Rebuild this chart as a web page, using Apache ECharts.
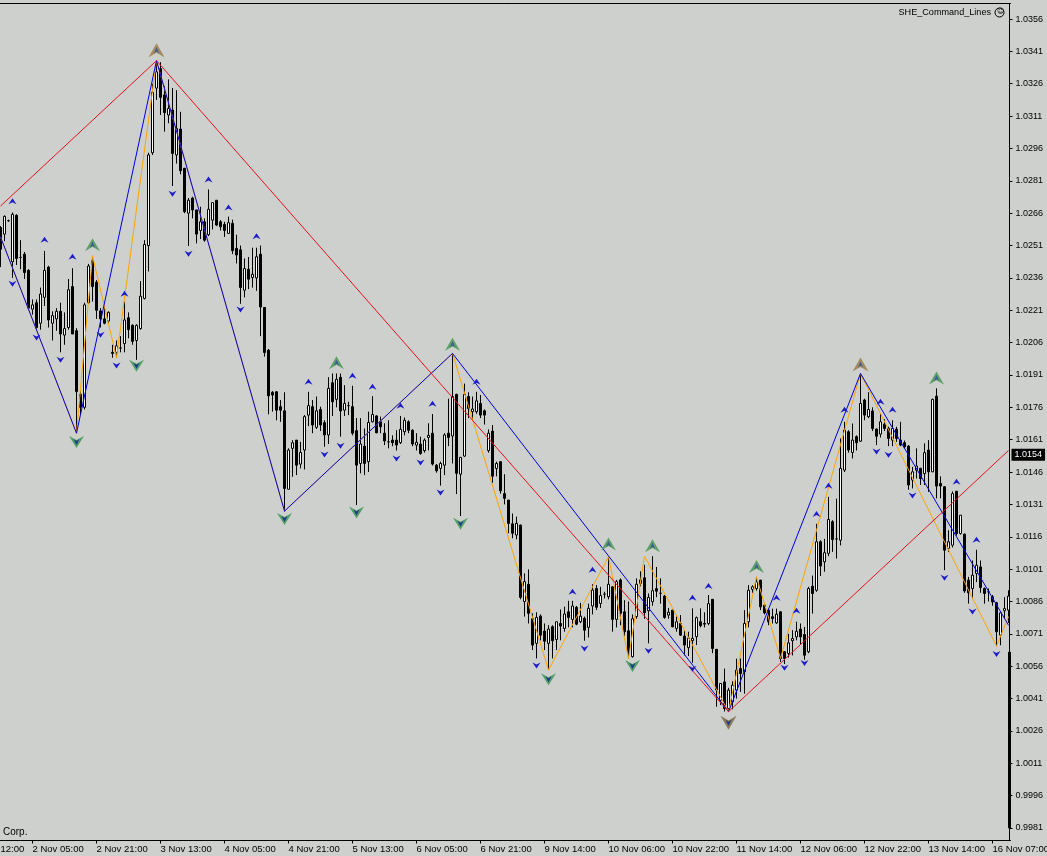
<!DOCTYPE html>
<html><head><meta charset="utf-8">
<style>html,body{margin:0;padding:0;background:#cdd0cc}#c{width:1047px;height:856px}</style>
<script src="https://cdn.jsdelivr.net/npm/echarts@6/dist/echarts.min.js"></script>
</head><body><div id="c"></div>
<script>
const opens=[1.02594,1.02563,1.02625,1.02435,1.0265,1.02455,1.0247,1.02395,1.02215,1.02245,
1.0215,1.0227,1.0241,1.0215,1.0217,1.02205,1.02095,1.0213,1.0232,1.02115,
1.0182,1.0176,1.02245,1.0244,1.0234,1.02207,1.0217,1.0216,1.02015,1.02015,
1.02035,1.02055,1.02175,1.0214,1.0207,1.02125,1.02265,1.0251,1.0294,1.0324,
1.0333,1.03208,1.03115,1.03138,1.0293,1.0305,1.02868,1.0266,1.0273,1.02675,
1.0258,1.0262,1.0256,1.02628,1.0272,1.0262,1.02608,1.02566,1.02613,1.02497,
1.0249,1.02303,1.024,1.02362,1.0236,1.0247,1.02223,1.02025,1.0183,1.01832,
1.01763,1.01744,1.0138,1.0157,1.01608,1.01497,1.01562,1.01724,1.01763,1.01667,
1.0175,1.01689,1.01632,1.01874,1.01797,1.01899,1.01747,1.01768,1.01763,1.01652,
1.015,1.0158,1.01508,1.01693,1.0172,1.01693,1.0164,1.016,1.01608,1.01608,
1.01596,1.01647,1.01693,1.01654,1.01585,1.0159,1.01559,1.0162,1.0164,1.01492,
1.01477,1.01492,1.0164,1.01627,1.0182,1.0145,1.01534,1.0181,1.0174,1.0174,
1.01778,1.01744,1.01559,1.0165,1.01477,1.01508,1.0136,1.0133,1.0122,1.01168,
1.01214,1.0086,1.0094,1.0078,1.00666,1.00792,1.00723,1.00666,1.00743,1.00684,
1.00758,1.00735,1.00812,1.00777,1.00833,1.00766,1.00782,1.0074,1.00839,1.0092,
1.00851,1.00894,1.00882,1.00928,1.00777,1.0096,1.00812,1.00724,1.00604,1.0079,
1.00944,1.0097,1.00817,1.00859,1.0092,1.00898,1.00885,1.00797,1.0082,1.00735,
1.00758,1.007,1.00646,1.00678,1.00697,1.00766,1.00758,1.00758,1.0087,1.00638,
1.00402,1.00487,1.00364,1.00395,1.00449,1.00549,1.00534,1.00766,1.00916,1.0092,
1.00959,1.00843,1.0082,1.00789,1.00761,1.00812,1.00627,1.00619,1.00678,1.00696,
1.00732,1.00707,1.00627,1.00931,1.00912,1.01137,1.01044,1.01083,1.0123,1.0115,
1.01144,1.01469,1.01647,1.01551,1.01624,1.01603,1.01794,1.01716,1.01743,1.01659,
1.01636,1.01682,1.01662,1.01608,1.01659,1.01608,1.01596,1.0158,1.01423,1.01469,
1.01477,1.01453,1.01562,1.01461,1.01812,1.01407,1.01392,1.01106,1.01121,1.01371,
1.01175,1.01172,1.00959,1.0092,1.0099,1.0102,1.0092,1.00905,1.00882,1.00854,
1.00704,1.00817,1.0082];
const closes=[1.02493,1.02645,1.02625,1.02655,1.0245,1.02455,1.02385,1.0222,1.02235,1.0213,
1.02285,1.02395,1.02165,1.02185,1.02205,1.021,1.02125,1.02305,1.021,1.01833,
1.0176,1.02235,1.02415,1.0232,1.0221,1.0217,1.0215,1.022,1.0201,1.02045,
1.02035,1.02165,1.0212,1.02065,1.0214,1.02275,1.02515,1.0293,1.0322,1.03315,
1.03197,1.03126,1.03145,1.02937,1.03053,1.02857,1.02667,1.0272,1.02675,1.02563,
1.0262,1.02535,1.02678,1.02709,1.02605,1.02597,1.0258,1.02616,1.02486,1.02466,
1.02315,1.02403,1.02354,1.02377,1.02458,1.02225,1.02014,1.01813,1.01817,1.01747,
1.01747,1.01384,1.01562,1.01596,1.01492,1.01551,1.01717,1.01768,1.01678,1.01744,
1.01678,1.01632,1.01848,1.01786,1.0189,1.01743,1.01778,1.01768,1.0164,1.01492,
1.0159,1.015,1.0169,1.01727,1.01642,1.0167,1.01604,1.016,1.01596,1.01585,
1.01658,1.017,1.01654,1.0159,1.01598,1.01546,1.01608,1.0163,1.01497,1.01466,
1.015,1.01632,1.0162,1.0181,1.01454,1.01528,1.0182,1.01755,1.01752,1.0179,
1.01724,1.01724,1.0164,1.01441,1.015,1.01373,1.01338,1.01222,1.01176,1.01222,
1.00879,1.00952,1.00805,1.00658,1.00786,1.00704,1.00676,1.00732,1.00678,1.00766,
1.00746,1.00802,1.00786,1.00839,1.00755,1.00792,1.00727,1.00828,1.00913,1.00833,
1.00887,1.00894,1.0094,1.00777,1.00952,1.00805,1.0072,1.00622,1.0078,1.0094,
1.0096,1.00808,1.00879,1.0091,1.00908,1.00898,1.00786,1.0081,1.00743,1.00766,
1.00704,1.00658,1.0069,1.00689,1.00785,1.00748,1.00755,1.0085,1.00642,1.0045,
1.0048,1.00364,1.00449,1.00472,1.00542,1.00526,1.00758,1.00912,1.00928,1.00951,
1.00835,1.00807,1.00766,1.00781,1.00801,1.00596,1.00596,1.00668,1.00688,1.00722,
1.00696,1.00611,1.0092,1.00897,1.01137,1.01024,1.01086,1.0124,1.01147,1.0115,
1.01477,1.01654,1.01562,1.01608,1.01596,1.01778,1.01724,1.0175,1.01662,1.01626,
1.01693,1.01662,1.01616,1.01662,1.01616,1.01585,1.01577,1.014,1.01461,1.01488,
1.0143,1.0155,1.01461,1.01797,1.01395,1.01395,1.01098,1.01137,1.0136,1.01175,
1.0126,1.00909,1.009,1.00982,1.01028,1.00925,1.00897,1.00905,1.00858,1.0072,
1.00807,1.00827,1.00885];
const highs=[1.026,1.0265,1.0263,1.02663,1.02655,1.02535,1.0248,1.024,1.0226,1.0226,
1.02315,1.02485,1.02416,1.02205,1.0222,1.02245,1.022,1.02355,1.02405,1.02127,
1.01836,1.02245,1.02425,1.02462,1.0235,1.0222,1.0223,1.02205,1.0205,1.0207,
1.0209,1.0225,1.022,1.02145,1.02145,1.02345,1.02535,1.0294,1.0326,1.03367,
1.0336,1.0325,1.0328,1.0324,1.0323,1.0313,1.0287,1.0273,1.02736,1.02675,
1.0269,1.02636,1.0277,1.0271,1.0272,1.02628,1.0262,1.02644,1.0263,1.0256,
1.0251,1.0245,1.02457,1.025,1.025,1.0251,1.02225,1.0203,1.01835,1.01835,
1.01794,1.0183,1.0157,1.01608,1.01608,1.016,1.01724,1.01832,1.01794,1.0181,
1.01763,1.017,1.019,1.01917,1.01917,1.01917,1.01863,1.01786,1.0186,1.0171,
1.0171,1.01662,1.0174,1.01812,1.01724,1.01717,1.01686,1.017,1.0163,1.01654,
1.0172,1.01713,1.017,1.01658,1.0164,1.01624,1.01616,1.01686,1.01729,1.01497,
1.01508,1.0164,1.018,1.0201,1.01823,1.0153,1.0187,1.0183,1.0181,1.01832,
1.01817,1.0175,1.01658,1.01678,1.01508,1.0151,1.0145,1.0133,1.01268,1.01253,
1.01217,1.0099,1.01009,1.00805,1.0081,1.008,1.00758,1.0075,1.0075,1.00766,
1.00823,1.00836,1.00863,1.00863,1.00839,1.00854,1.0079,1.0085,1.0094,1.00936,
1.00928,1.00905,1.01068,1.0093,1.0096,1.00967,1.00866,1.0086,1.008,1.00967,
1.01,1.0103,1.00897,1.0107,1.0102,1.00967,1.0089,1.0083,1.0082,1.0079,
1.00797,1.00727,1.0072,1.00828,1.0079,1.00828,1.0081,1.0089,1.0087,1.0064,
1.0048,1.00549,1.0046,1.0049,1.00595,1.00596,1.0082,1.00936,1.00935,1.00974,
1.0096,1.0085,1.00827,1.00827,1.00827,1.00815,1.0063,1.0071,1.00727,1.00766,
1.00758,1.00742,1.00928,1.0098,1.0122,1.01144,1.0115,1.01345,1.01237,1.01337,
1.01616,1.01693,1.01654,1.01685,1.0163,1.01917,1.018,1.0183,1.0176,1.01662,
1.0173,1.01705,1.0167,1.017,1.0167,1.01693,1.01606,1.01585,1.01484,1.0157,
1.0148,1.01593,1.01608,1.018,1.01848,1.0144,1.01395,1.0119,1.0137,1.01371,
1.0126,1.01175,1.00974,1.0105,1.011,1.0105,1.00925,1.0092,1.0089,1.00858,
1.0081,1.0088,1.00912];
const lows=[1.0241,1.0253,1.0262,1.0236,1.0242,1.024,1.02355,1.0221,1.0219,1.0212,
1.0212,1.0223,1.0213,1.0207,1.02115,1.02015,1.0205,1.0212,1.021,1.0164,
1.01728,1.0175,1.0224,1.0225,1.0217,1.0213,1.02145,1.0215,1.0199,1.0199,
1.02015,1.02015,1.0208,1.0205,1.0198,1.0212,1.0226,1.0239,1.0293,1.03185,
1.03115,1.03038,1.03077,1.02786,1.0289,1.0284,1.0266,1.02508,1.02636,1.0252,
1.0254,1.02528,1.02554,1.02585,1.026,1.0258,1.0255,1.02566,1.0247,1.02427,
1.0224,1.0227,1.02308,1.02315,1.023,1.0209,1.01995,1.01728,1.0174,1.017,
1.01693,1.01276,1.0138,1.01438,1.01446,1.01477,1.01472,1.01673,1.0164,1.0166,
1.0165,1.01577,1.0159,1.0172,1.0176,1.01624,1.0172,1.01724,1.0163,1.01307,
1.01454,1.01446,1.0146,1.0169,1.0164,1.0164,1.01585,1.0157,1.0158,1.0156,
1.0159,1.0163,1.0164,1.0158,1.0156,1.0154,1.0155,1.0156,1.0149,1.01457,
1.01397,1.01446,1.0158,1.015,1.01358,1.01256,1.0153,1.0171,1.017,1.0173,
1.0171,1.0168,1.0155,1.0141,1.0144,1.0136,1.0131,1.01176,1.01153,1.01148,
1.0087,1.0079,1.00758,1.00635,1.00596,1.0068,1.00635,1.00542,1.00596,1.00635,
1.0068,1.0072,1.0074,1.0074,1.0075,1.0076,1.00678,1.00693,1.008,1.0082,
1.0083,1.00874,1.0087,1.0072,1.0074,1.0075,1.007,1.00596,1.006,1.0078,
1.0093,1.0078,1.00666,1.0084,1.0088,1.0085,1.0078,1.0078,1.0074,1.0072,
1.007,1.0061,1.00607,1.00576,1.00658,1.0074,1.0074,1.0075,1.0062,1.00372,
1.0038,1.0035,1.00349,1.0036,1.0041,1.00441,1.00433,1.0074,1.009,1.0091,
1.0082,1.008,1.0075,1.00758,1.00756,1.0058,1.0057,1.006,1.0061,1.0068,
1.0066,1.0059,1.0062,1.00804,1.00905,1.00978,1.00998,1.0107,1.0109,1.01059,
1.0112,1.0146,1.0155,1.01523,1.0156,1.016,1.017,1.0171,1.0165,1.01585,
1.0162,1.0165,1.0158,1.0158,1.016,1.0158,1.0157,1.01378,1.01384,1.0143,
1.014,1.014,1.01368,1.0146,1.01338,1.01338,1.01005,1.0109,1.0111,1.01165,
1.0117,1.009,1.0085,1.00874,1.0095,1.009,1.0085,1.0086,1.0084,1.00653,
1.00657,1.0078,1.0076];
// stray last bar, drawn right on the price scale (position given in fractional bar index)
const spikeBar=[252.25,1.00625,0.9981,0.9981,1.00625];

const tickIndex=[8,24,40,56,72,88,104,120,136,152,168,184,200,216,232,248];
const tickDates=['2 Nov 05:00','2 Nov 21:00','3 Nov 13:00','4 Nov 05:00','4 Nov 21:00','5 Nov 13:00','6 Nov 05:00','6 Nov 21:00','9 Nov 14:00','10 Nov 06:00','10 Nov 22:00','11 Nov 14:00','12 Nov 06:00','12 Nov 22:00','13 Nov 14:00','16 Nov 07:00'];
const firstDateFragment='12:00';
const priceTicks=[1.0356,1.0341,1.0326,1.0311,1.0296,1.0281,1.0266,1.0251,1.0236,1.0221,1.0206,1.0191,1.0176,1.0161,1.0146,1.0131,1.0116,1.0101,1.0086,1.0071,1.0056,1.0041,1.0026,1.0011,0.9996,0.9981];
const lastPrice=1.0154;

const redIdx=[0,39,182,252];
const redVal=[1.02693,1.03367,1.00349,1.0156];
const blueIdx=[0,19,39,71,113,182,215,252];
const blueVal=[1.0255,1.0164,1.03367,1.01279,1.0201,1.00349,1.01917,1.0075];
const orangeIdx=[0,19,23,29,39,71,113,137,152,157,161,182,189,195,215,249,252];
const orangeVal=[1.0255,1.0164,1.02462,1.0199,1.03367,1.01279,1.0201,1.00542,1.01068,1.00596,1.0107,1.00349,1.00974,1.00596,1.01917,1.00653,1.0079];

const blueUpIdx=[3,11,18,31,52,57,64,77,88,93,100,108,119,143,148,173,177,194,199,204,207,211,220,223,239,244];
const blueUpVal=[1.02715,1.02537,1.02458,1.02287,1.02816,1.02686,1.02553,1.01879,1.01906,1.01855,1.01767,1.01777,1.01879,1.00905,1.01007,1.00877,1.00932,1.00877,1.00817,1.01266,1.01396,1.01749,1.01786,1.01749,1.01415,1.01146];
const blueDownIdx=[3,9,15,25,29,43,47,60,81,85,99,105,110,134,146,162,173,196,201,219,222,228,236,243,249];
const blueDownVal=[1.02333,1.02084,1.0198,1.02097,1.01954,1.0275,1.02472,1.02213,1.01541,1.01582,1.01523,1.01504,1.01365,1.00563,1.00642,1.00632,1.00548,1.00553,1.00575,1.01555,1.0154,1.01351,1.0097,1.00813,1.00617];
const greenUpIdx=[23,84,113,152,163,189,234];
const greenUpVal=[1.02514,1.01967,1.02052,1.01127,1.01118,1.01022,1.01896];
const brownUpIdx=[39,215];
const brownUpVal=[1.03415,1.01958];
const greenDownIdx=[19,34,71,89,115,137,158];
const greenDownVal=[1.01599,1.01953,1.01242,1.01272,1.0122,1.005,1.00561];
const brownDownIdx=[182];
const brownDownVal=[1.00298];

const bg='#cdd0cc', font='"Liberation Sans",Arial,sans-serif';
const UP='path://M5 0L10 9L5 6L0 9Z', DOWN='path://M0 0L5 3L10 0L5 9Z';
const candles=opens.map((o,i)=>[o,closes[i],lows[i],highs[i]]);
const categories=opens.map((_,i)=>String(i));
const zip=(a,b)=>a.map((v,k)=>[v,b[k]]);
const line=(name,x,y,color,z)=>({name,type:'line',data:zip(x,y),showSymbol:false,symbol:'none',z,silent:true,
  lineStyle:{color,width:1},emphasis:{disabled:true}});
const marks=(name,x,y,sym,size,color,z)=>({name,type:'scatter',data:zip(x,y),symbol:sym,symbolSize:size,z,silent:true,
  itemStyle:{color,opacity:1},clip:false});

const candleStyle={color:'#ffffff',color0:'#000000',borderColor:'#000000',borderColor0:'#000000',borderWidth:1};
const chart=echarts.init(document.getElementById('c'),null,{renderer:'canvas'});
chart.setOption({
 animation:false,backgroundColor:bg,
 grid:{left:-1.5,width:1012,top:3.5,bottom:15.5,containLabel:false,outerBoundsMode:'none'},
 tooltip:{show:false},
 xAxis:[{type:'category',data:categories,boundaryGap:true,
   axisLine:{show:true,lineStyle:{color:'#000',width:1}},
   axisTick:{show:true,length:3,alignWithLabel:true,lineStyle:{color:'#000'},interval:(i)=>tickIndex.includes(i)},
   axisLabel:{show:true,align:'left',color:'#000',fontFamily:font,fontSize:9.5,margin:4,hideOverlap:false,
     interval:(i)=>i===0||tickIndex.includes(i),
     formatter:(v,i)=>i===0?firstDateFragment:tickDates[tickIndex.indexOf(i)]||''},
   splitLine:{show:false}},
  {type:'value',position:'top',min:-0.5,max:252.5,
   axisLine:{show:true,onZero:false,lineStyle:{color:'#000',width:1}},axisTick:{show:false},axisLabel:{show:false},splitLine:{show:false}}],
 yAxis:[{type:'value',position:'right',offset:-1,min:0.99752,max:1.03632,scale:true,
   axisLine:{show:true,onZero:false,lineStyle:{color:'#000',width:1}},
   axisTick:{show:true,length:3,lineStyle:{color:'#000'},customValues:priceTicks},
   axisLabel:{show:true,color:'#000',fontFamily:font,fontSize:9,margin:6,padding:[2,0,0,0],customValues:priceTicks,formatter:v=>v.toFixed(4)},
   splitLine:{show:false}},
  {type:'value',position:'right',offset:-1,min:0.99752,max:1.03632,scale:true,
   axisLine:{show:false},axisTick:{show:false},splitLine:{show:false},
   axisLabel:{show:true,color:'#fff',backgroundColor:'#000',padding:[2,3,1,3],fontFamily:font,fontSize:9,margin:2,customValues:[lastPrice],formatter:v=>v.toFixed(4)},z:10}],
 series:[
  {name:'price',type:'candlestick',data:candles,barWidth:3,itemStyle:candleStyle,z:2,silent:true},
  {name:'stray',type:'candlestick',xAxisIndex:1,data:[spikeBar],barWidth:3,clip:false,
   itemStyle:candleStyle,z:3,silent:true},
  line('orange zigzag',orangeIdx,orangeVal,'#ffa500',4),
  line('blue zigzag',blueIdx,blueVal,'#0000e6',5),
  line('red zigzag',redIdx,redVal,'#f01020',6),
  marks('green up',greenUpIdx,greenUpVal,UP,[15,13],'#5f9f68',7),
  marks('green down',greenDownIdx,greenDownVal,DOWN,[15,12],'#559f68',7),
  marks('brown up',brownUpIdx,brownUpVal,UP,[16,14],'#a58a5e',7),
  marks('brown down',brownDownIdx,brownDownVal,DOWN,[16,14],'#8a7a5a',7),
  marks('blue up',blueUpIdx,blueUpVal,UP,[8,6],'#1a1ac8',8),
  marks('blue down',blueDownIdx,blueDownVal,DOWN,[8,6],'#1a1ac8',8),
  marks('center up',greenUpIdx.concat(brownUpIdx),greenUpVal.concat(brownUpVal),UP,[5,6],'#3a5a98',8),
  marks('center down',greenDownIdx.concat(brownDownIdx),greenDownVal.concat(brownDownVal),DOWN,[6,6],'#1a3a88',8)
 ],
 graphic:[
  {type:'text',right:56,top:8,style:{text:'SHE_Command_Lines',fill:'#000',font:'9.1px '+font},silent:true},
  {type:'circle',shape:{cx:999.5,cy:12.5,r:4.5},style:{fill:'none',stroke:'#000',lineWidth:1},silent:true},
  {type:'text',x:997,y:8,style:{text:'☺',fill:'#000',font:'7px "DejaVu Sans"'},silent:true},
  {type:'text',left:3,top:827,style:{text:'Corp.',fill:'#000',font:'10px '+font},silent:true}
 ]
});
</script></body></html>
